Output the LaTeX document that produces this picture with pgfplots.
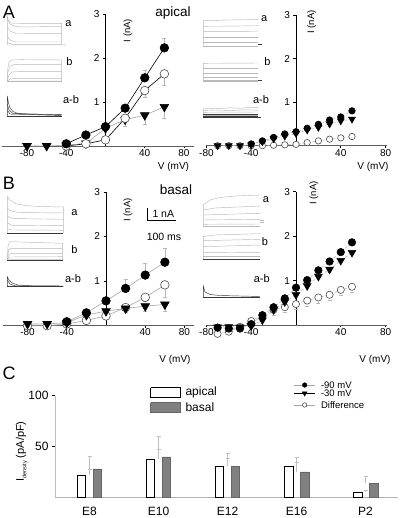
\documentclass[border=0pt]{standalone}
\usepackage{pgfplots}
\pgfplotsset{compat=1.18}
\usepackage{fontspec}
\setmainfont{Liberation Sans}
\newcommand\fs[1]{\fontsize{#1}{#1}\selectfont}
\pgfplotsset{
 trc/.style={gray!55, line width=0.45pt},
 trcd/.style={gray!45!black, line width=0.45pt},
 eb/.style={error bars/.cd, y dir=#1, y explicit, error bar style={gray!55, line width=0.5pt}, error mark options={gray!55, mark size=2pt, line width=0.5pt, rotate=90}},
 mfc/.style={mark=*, mark size=#1, mark options={fill=black, draw=black, solid}},
 moc/.style={mark=*, mark size=#1, mark options={fill=white, draw=gray!60!black, solid, line width=0.6pt}},
 mtri/.style={mark=triangle*, mark size=#1, mark options={rotate=180, fill=black, draw=black, solid}},
 iv/.style={scale only axis, anchor=south west, axis lines=middle, axis line style={-},
   x axis line style={gray!75!black, line width=0.9pt}, y axis line style={black, line width=0.6pt},
   ymin=0, ymax=3, ytick={1,2,3}, yticklabels={1,2,3},
   xtick={-80,-40,40,80}, xticklabels={-80,-40,40,80},
   tick align=outside, major tick length=2.5pt, tick style={black, line width=0.6pt},
   tick label style={font=\fs{10}}, xticklabel style={yshift=2.5pt}, clip=false},
}
\begin{document}
\begin{tikzpicture}[x=1pt,y=1pt]
\useasboundingbox (0pt,0pt) rectangle (403pt,518pt);
% ---------- overlay axis in pixel units (traces, scale bar, legend) ----------
\begin{axis}[at={(0pt,0pt)}, anchor=south west, scale only axis, width=403pt, height=518pt,
  xmin=0, xmax=403, ymin=0, ymax=518, y dir=reverse, hide axis, clip=false]
% A left, a
\addplot[trc] coordinates {(7.3,45)(7.3,16)(8.5,21)(11,23)(20,23.3)(61.7,23.3)(61.7,45)};
\addplot[trc] coordinates {(7.3,19)(10,24)(15,26.5)(25,27)(61.7,26.3)};
\addplot[trc] coordinates {(7.3,27)(10,31)(16,33.5)(61.7,33.7)};
\addplot[trc] coordinates {(7.3,36)(10,40)(16,42)(61.7,42)};
\addplot[trc] coordinates {(7.3,42.5)(12,44.3)(61.7,44.3)};
\addplot[trc] coordinates {(7.3,45)(61.7,45)(64,44.5)(66,45)};
% A left, b
\addplot[trc] coordinates {(7.3,81.7)(7.8,68)(9,62)(12,60)(20,59.7)(61.7,60)(61.7,81.7)};
\addplot[trc] coordinates {(7.3,81.7)(8,72)(10,66)(15,64.3)(61.7,64.3)};
\addplot[trc] coordinates {(7.3,81.7)(8.5,76)(12,72)(18,71.7)(61.7,71.7)};
\addplot[trc] coordinates {(7.3,81.7)(10,79)(16,78.3)(61.7,78.3)};
\addplot[trc] coordinates {(7.3,81.7)(12,81)(61.7,81)};
\addplot[trc] coordinates {(7.3,81.7)(61.7,81.7)};
% A left, a-b
\addplot[trcd] coordinates {(7.3,116.7)(7.3,96)(8.5,103)(10,108)(13,111.5)(18,113.5)(30,114.2)(61.7,114.3)};
\addplot[trcd] coordinates {(7.3,104)(9,110)(13,113.5)(61.7,115)};
\addplot[trcd] coordinates {(7.3,110)(10,114)(61.7,115.5)};
\addplot[trcd] coordinates {(7.3,116.7)(61.7,116.7)};
% B left, a
\addplot[trc] coordinates {(7.3,233.3)(7.3,196.7)(10,200)(15,203.5)(25,205.5)(40,206.5)(63.3,207)(63.3,233.3)};
\addplot[trc] coordinates {(7.3,208)(10,210.5)(18,212.5)(63.3,213)};
\addplot[trc] coordinates {(7.3,216)(12,218.5)(63.3,219.3)};
\addplot[trc] coordinates {(7.3,223)(12,225.3)(63.3,225.7)};
\addplot[trc] coordinates {(7.3,229)(12,230)(63.3,230.3)};
\addplot[trcd] coordinates {(7.3,233.3)(63.3,233.3)};
% B left, b
\addplot[trc] coordinates {(7.3,260.7)(8,246)(9.5,242)(12,241.7)(30,242.3)(62.7,243.3)(62.7,260.7)};
\addplot[trc] coordinates {(7.3,260.7)(8.5,250)(11,248.3)(62.7,248.3)};
\addplot[trc] coordinates {(7.3,260.7)(9,254.5)(12,253.3)(62.7,253.3)};
\addplot[trc] coordinates {(7.3,260.7)(10,257)(62.7,256.7)};
\addplot[trc] coordinates {(7.3,260.7)(12,259.3)(62.7,259.3)};
\addplot[trcd] coordinates {(7.3,260.7)(62.7,260.7)};
% B left, a-b
\addplot[trcd] coordinates {(7.3,286.7)(7.3,276.7)(9,280)(12,283)(18,285)(30,285.8)(63.3,286)};
\addplot[trcd] coordinates {(7.3,280)(10,284)(15,285.8)(63.3,286.3)};
\addplot[trcd] coordinates {(7.3,286.7)(63.3,286.7)};
% A right, a
\addplot[trc] coordinates {(203.3,46.7)(203.3,20.7)(215,20.4)(230,20)(245,19.8)(258.3,19.3)};
\addplot[trc] coordinates {(203.3,26.3)(230,26.2)(258.3,25.7)};
\addplot[trc] coordinates {(203.3,31.7)(258.3,31.5)};
\addplot[trc] coordinates {(203.3,37.3)(258.3,37.3)};
\addplot[trc] coordinates {(203.3,42.3)(258.3,42.3)};
\addplot[trc] coordinates {(203.3,46.3)(258.3,46.3)};
\addplot[trcd] coordinates {(258.3,44.3)(261.7,44.3)};
% A right, b
\addplot[trc] coordinates {(203.3,81.7)(203.3,63.3)(230,63.2)(258.3,63)};
\addplot[trc] coordinates {(203.3,68.3)(258.3,68.3)};
\addplot[trc] coordinates {(203.3,73.3)(258.3,73.3)};
\addplot[trc] coordinates {(203.3,77.7)(258.3,77.7)};
\addplot[trc] coordinates {(203.3,80.7)(258.3,80.7)};
\addplot[trc] coordinates {(203.3,81.7)(258.3,81.7)};
\addplot[trcd] coordinates {(258.3,80.7)(261.7,80.7)};
% A right, a-b
\addplot[trc] coordinates {(203.3,117.3)(203.3,109)(210,108.3)(220,108.7)(230,107.7)(240,108.3)(250,107.3)(258.3,107.7)};
\addplot[trc] coordinates {(203.3,110.5)(215,110)(230,110.5)(245,109.8)(258.3,110.2)};
\addplot[trc] coordinates {(203.3,112.3)(258.3,112)};
\addplot[trcd] coordinates {(203.3,113.8)(258.3,113.8)};
\addplot[trc] coordinates {(203.3,115.2)(258.3,115.2)};
\addplot[trcd] coordinates {(203.3,116.4)(258.3,116.4)};
\addplot[trcd] coordinates {(203.3,117.3)(261,117.3)};
% B right, a
\addplot[trc] coordinates {(203.3,226)(203.3,205)(210,200)(220,197.5)(235,196)(260,195)};
\addplot[trc] coordinates {(203.3,210)(215,208)(260,206)};
\addplot[trc] coordinates {(203.3,215)(260,213.3)};
\addplot[trc] coordinates {(203.3,220)(260,219.3)};
\addplot[trc] coordinates {(203.3,224.3)(260,224)};
\addplot[trc] coordinates {(203.3,226)(260,226)};
\addplot[trc] coordinates {(260,220.5)(264,220.5)};
\addplot[trc] coordinates {(260,222.5)(264,222.5)};
% B right, b
\addplot[trc] coordinates {(203.3,259.3)(203.3,236.5)(215,235)(260,233.7)};
\addplot[trc] coordinates {(203.3,240.7)(260,239.3)};
\addplot[trc] coordinates {(203.3,246.7)(260,245)};
\addplot[trc] coordinates {(203.3,252.7)(260,252.3)};
\addplot[trc] coordinates {(203.3,256.7)(260,256.7)};
\addplot[trcd] coordinates {(203.3,259.3)(260,259.3)};
% B right, a-b
\addplot[trcd] coordinates {(203.3,297.3)(203.3,286)(205,292)(210,294.5)(220,295.5)(260,296.5)};
\addplot[trcd] coordinates {(203.3,297.3)(260,297.3)};
% scale bar
\addplot[black, line width=0.8pt] coordinates {(147,208.3)(147,220)(175.7,220)};
% legend of C
\addplot[draw=black, fill=white, line width=0.6pt] coordinates {(150.7,387.7)(180,387.7)(180,397.3)(150.7,397.3)(150.7,387.7)};
\addplot[draw=gray!80!black, fill=gray, line width=0.6pt] coordinates {(150.7,402.7)(180,402.7)(180,412.3)(150.7,412.3)(150.7,402.7)};
\addplot[gray!70, line width=0.8pt] coordinates {(294.3,385)(315,385)};
\addplot[only marks, mfc=2.3pt] coordinates {(304.7,385)};
\addplot[black, line width=0.8pt] coordinates {(294.3,393.3)(315,393.3)};
\addplot[only marks, mtri=2.8pt] coordinates {(304.7,393.3)};
\addplot[gray!70, line width=0.8pt] coordinates {(294.3,405)(315,405)};
\addplot[only marks, moc=2.2pt] coordinates {(304.7,405)};
\end{axis}
% ---------- A left ----------
\begin{axis}[iv, at={(2.5pt,372pt)}, width=191.3pt, height=132pt, xmin=-105, xmax=90]
\addplot[gray!70, line width=0.6pt, mtri=5pt, eb=minus] coordinates {
(-80,0) +- (0,0) (-60,0) +- (0,0) (-40,0.02) +- (0,0) (-20,0.06) +- (0,0) (0,0.40) +- (0,0)
(20,0.60) +- (0,0.16) (40,0.70) +- (0,0.2) (60,0.89) +- (0,0.26)};
\addplot[black, line width=0.6pt, moc=4.3pt, eb=minus] coordinates {
(-40,0.0) +- (0,0) (-20,0.05) +- (0,0) (0,0.14) +- (0,0) (20,0.63) +- (0,0)
(40,1.26) +- (0,0.15) (60,1.64) +- (0,0.27)};
\addplot[black, line width=0.6pt, mfc=4.3pt, eb=plus] coordinates {
(-40,0.05) +- (0,0) (-20,0.25) +- (0,0) (0,0.44) +- (0,0) (20,0.86) +- (0,0.05)
(40,1.55) +- (0,0.18) (60,2.23) +- (0,0.22)};
\end{axis}
% ---------- A right ----------
\begin{axis}[iv, at={(206.4pt,372.3pt)}, width=180.3pt, height=130.7pt, xmin=-80, xmax=81]
\addplot[gray!60, line width=0.5pt, densely dashed, moc=3.2pt, eb=minus] coordinates {
(-70,0) +- (0,0.02) (-60,0) +- (0,0.02) (-50,0) +- (0,0.02) (-40,0) +- (0,0.02) (-30,0) +- (0,0.02)
(-20,0.01) +- (0,0.02) (-10,0.02) +- (0,0.02) (0,0.03) +- (0,0.02) (10,0.07) +- (0,0.03)
(20,0.11) +- (0,0.03) (30,0.15) +- (0,0.03) (40,0.18) +- (0,0.03) (50,0.21) +- (0,0.04)};
\addplot[gray!60, line width=0.5pt, densely dashed, mtri=4pt] coordinates {
(-70,0) (-60,0) (-50,0) (-40,0.02) (-30,0.09) (-20,0.16) (-10,0.22) (0,0.28) (10,0.36)
(20,0.42) (30,0.50) (40,0.57) (50,0.61)};
\addplot[gray!60, line width=0.5pt, densely dashed, mfc=3.3pt] coordinates {
(-40,0.04) (-30,0.11) (-20,0.19) (-10,0.27) (0,0.32) (10,0.40) (20,0.49) (30,0.59) (40,0.66) (50,0.80)};
\end{axis}
% ---------- B left ----------
\begin{axis}[iv, at={(3pt,192.7pt)}, width=191.3pt, height=133.3pt, xmin=-105, xmax=90]
\addplot[gray!70, line width=0.6pt, moc=4.3pt, eb=minus] coordinates {
(-80,-0.01) +- (0,0) (-60,-0.01) +- (0,0) (-40,0.03) +- (0,0) (-20,0.11) +- (0,0) (0,0.21) +- (0,0.05)
(20,0.40) +- (0,0.08) (40,0.63) +- (0,0.1) (60,0.91) +- (0,0.28)};
\addplot[gray!70, line width=0.6pt, mtri=5pt, eb=minus] coordinates {
(-80,0.03) +- (0,0) (-60,0.03) +- (0,0) (-40,0.06) +- (0,0) (-20,0.23) +- (0,0) (0,0.32) +- (0,0)
(20,0.38) +- (0,0.08) (40,0.43) +- (0,0.12) (60,0.47) +- (0,0.16)};
\addplot[gray!70, line width=0.6pt, mfc=4.3pt, eb=plus] coordinates {
(-40,0.08) +- (0,0) (-20,0.28) +- (0,0) (0,0.55) +- (0,0) (20,0.83) +- (0,0.21)
(40,1.13) +- (0,0.27) (60,1.42) +- (0,0.31)};
\end{axis}
% ---------- B right ----------
\begin{axis}[iv, at={(206.4pt,193pt)}, width=180.3pt, height=133.3pt, xmin=-80, xmax=81]
\addplot[gray!60, line width=0.5pt, densely dashed, moc=3.6pt, eb=minus] coordinates {
(-70,-0.2) +- (0,0) (-60,-0.15) +- (0,0) (-50,-0.04) +- (0,0) (-40,0.09) +- (0,0) (-30,0.22) +- (0,0.05)
(-20,0.34) +- (0,0.12) (-10,0.40) +- (0,0.12) (0,0.47) +- (0,0.12) (10,0.55) +- (0,0.12)
(20,0.62) +- (0,0.12) (30,0.68) +- (0,0.12) (40,0.79) +- (0,0.12) (50,0.86) +- (0,0.12)};
\addplot[gray!60, line width=0.5pt, densely dashed, mfc=3.8pt] coordinates {
(-70,-0.06) (-60,-0.08) (-50,-0.08) (-40,0.02) (-30,0.22) (-20,0.40) (-10,0.60) (0,0.84)
(10,1.01) (20,1.23) (30,1.43) (40,1.64) (50,1.86)};
\addplot[gray!60, line width=0.5pt, densely dashed, mtri=4.5pt] coordinates {
(-70,-0.05) (-60,-0.04) (-50,-0.05) (-40,-0.02) (-30,0.11) (-20,0.34) (-10,0.52) (0,0.68)
(10,0.88) (20,1.09) (30,1.25) (40,1.45) (50,1.63)};
\end{axis}
% ---------- C ----------
\begin{axis}[scale only axis, anchor=south west, at={(55pt,20.7pt)}, width=343pt, height=101.6pt,
  xmin=-0.5, xmax=4.47, ymin=0, ymax=100,
  axis x line=bottom, axis y line=left, axis line style={-},
  x axis line style={gray!60, line width=1.2pt}, y axis line style={gray!50, line width=0.4pt},
  xtick={0,1,2,3,4}, xticklabels={E8,E10,E12,E16,P2}, xtick style={draw=none},
  ytick={50,100}, yticklabels={50,100}, tick align=outside, major tick length=3pt,
  ytick style={black, line width=0.5pt},
  tick label style={font=\fs{12}}, xticklabel style={yshift=-3pt}, clip=false]
\addplot[ybar, bar width=8.5pt, bar shift=-8pt, fill=white, draw=black, line width=0.6pt,
  error bars/.cd, y dir=plus, y explicit, error bar style={gray!50, line width=0.5pt},
  error mark options={gray!50, mark size=2pt, rotate=90}] coordinates {
(0,22) +- (0,6) (1,37.4) +- (0,9.8) (2,30.5) +- (0,7.9) (3,31) +- (0,8.5) (4,5.3) +- (0,1.8)};
\addplot[ybar, bar width=8.5pt, bar shift=8pt, fill=gray, draw=gray!80!black, line width=0.6pt,
  error bars/.cd, y dir=plus, y explicit, error bar style={gray!50, line width=0.5pt},
  error mark options={gray!50, mark size=2pt, rotate=90}] coordinates {
(0,28) +- (0,12) (1,39.7) +- (0,20.3) (2,30.5) +- (0,13.1) (3,25) +- (0,9.5) (4,14) +- (0,6.7)};
\end{axis}
% ---------- text ----------
\node[font=\fs{18}] at (9,506) {A};
\node[font=\fs{18}] at (9,335) {B};
\node[font=\fs{18}] at (9,145) {C};
\node[font=\fs{13.5}] at (173,505) {apical};
\node[font=\fs{13.5}] at (176,328) {basal};
\node[font=\fs{11}] at (68.5,494.5) {a};
\node[font=\fs{11}] at (69.5,456) {b};
\node[font=\fs{11}] at (71,418) {a-b};
\node[font=\fs{11}] at (74.5,305.5) {a};
\node[font=\fs{11}] at (74.5,268.5) {b};
\node[font=\fs{11}] at (73,239) {a-b};
\node[font=\fs{11}] at (264.3,499) {a};
\node[font=\fs{11}] at (267.5,456.5) {b};
\node[font=\fs{11}] at (261,418.5) {a-b};
\node[font=\fs{11}] at (266,318) {a};
\node[font=\fs{11}] at (265,276.3) {b};
\node[font=\fs{11}] at (261.7,239.7) {a-b};
\node[font=\fs{9.5}, rotate=90] at (128,487.5) {I (nA)};
\node[font=\fs{9.5}, rotate=90] at (311.7,496) {I (nA)};
\node[font=\fs{9.5}, rotate=90] at (128,308) {I (nA)};
\node[font=\fs{9.5}, rotate=90] at (314,325) {I (nA)};
\node[font=\fs{10}] at (173.5,351) {V (mV)};
\node[font=\fs{10}] at (373,351) {V (mV)};
\node[font=\fs{10}] at (175,158) {V (mV)};
\node[font=\fs{10}] at (375,158) {V (mV)};
\node[font=\fs{10.5}] at (163.3,303.7) {1 nA};
\node[font=\fs{10.5}] at (164,280.7) {100 ms};
\node[font=\fs{12}, anchor=west] at (182,125.7) {apical};
\node[font=\fs{12}, anchor=west] at (182,110.7) {basal};
\node[font=\fs{9.5}, anchor=west] at (317.5,133.2) {-90 mV};
\node[font=\fs{9.5}, anchor=west] at (317.5,124.7) {-30 mV};
\node[font=\fs{9.5}, anchor=west] at (317.5,113) {Difference};
\node[rotate=90] at (21.7,66.5) {\fs{11}I\raisebox{-2.5pt}{\fs{5.5}density} (pA/pF)};
\end{tikzpicture}
\end{document}
